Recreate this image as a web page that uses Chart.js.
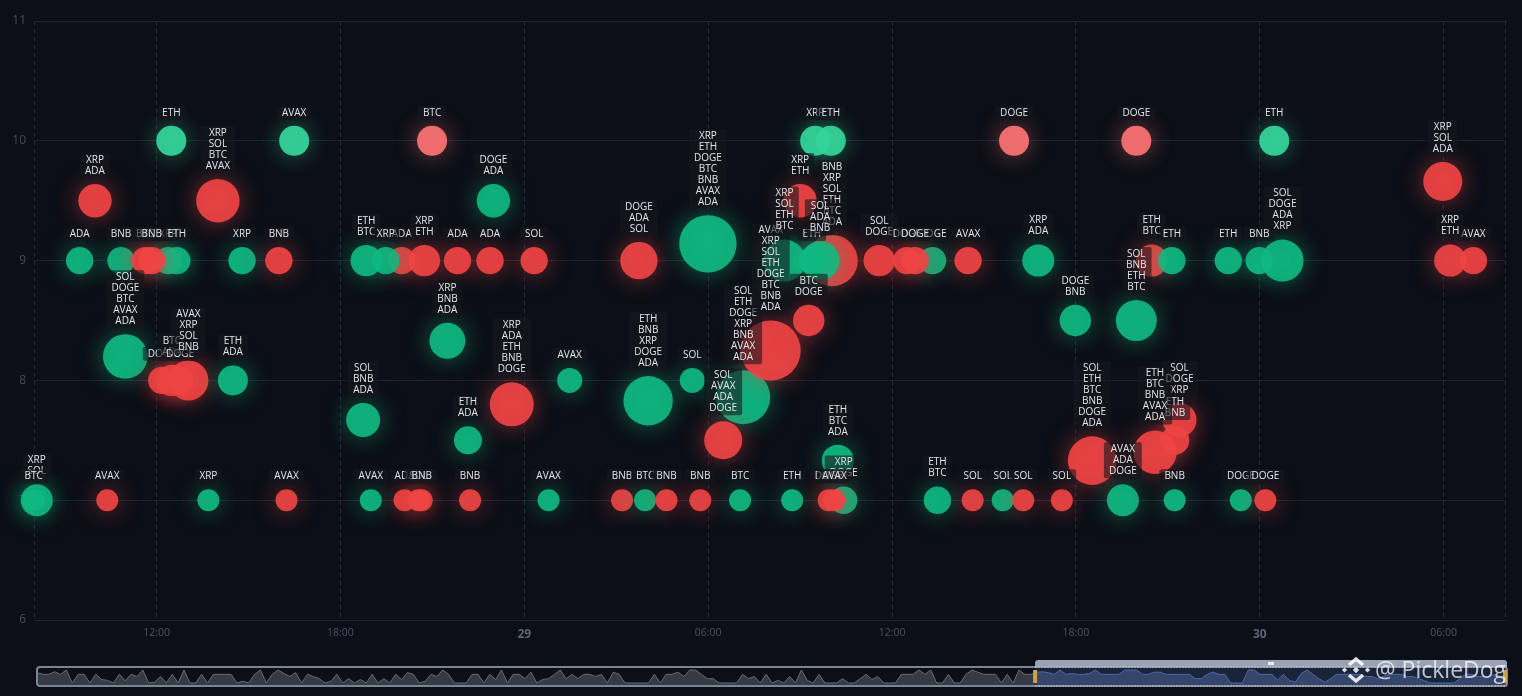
<!DOCTYPE html>
<html>
<head>
<meta charset="utf-8">
<title>Bubble chart</title>
<script src="https://cdn.jsdelivr.net/npm/chart.js@4/dist/chart.umd.js"></script>
<style>
  html, body { margin: 0; padding: 0; background: #0c0f17; overflow: hidden; }
  canvas { position: absolute; left: 0; }
  #main-chart { top: 0; }
  #slider-chart { top: 650px; }
</style>
</head>
<body>
<canvas id="main-chart" width="1522" height="650"></canvas>
<canvas id="slider-chart" width="1522" height="46"></canvas>
<script>
"use strict";

// hours counted from 28th 00:00, listed in drawing order
var times = [
  8.09, 7.99, 9.49, 9.99, 10.39, 10.84, 10.98, 12.38, 12.66, 11.63,
  11.84, 12.17, 12.48, 12.5, 12.77, 13.04, 13.69, 14.0, 14.49, 14.79,
  15.99, 16.24, 16.49, 18.74, 20.0, 18.84, 19.48, 18.99, 20.09, 20.55,
  20.65, 20.74, 20.99, 21.49, 21.82, 22.16, 22.23, 22.88, 22.99, 23.59,
  24.32, 24.79, 25.48, 27.19, 27.74, 27.94, 28.04, 28.64, 29.48, 29.74,
  29.99, 31.14, 30.49, 31.04, 32.04, 32.74, 33.0, 33.28, 34.04, 32.49,
  33.38, 33.65, 33.49, 34.0, 34.23, 34.42, 33.93, 34.12, 35.58, 37.32,
  36.48, 36.75, 37.48, 38.48, 38.63, 39.61, 39.98, 40.28, 40.77, 41.54,
  41.98, 42.53, 43.53, 43.97, 43.97, 44.47, 45.13, 45.38, 45.23, 44.58,
  45.22, 46.97, 47.38, 48.74, 47.98, 48.18, 48.47, 53.97, 54.97, 54.21
];
var prices = [
  7, 7, 9, 9.5, 7, 9, 8.2, 9, 9, 9,
  9, 8, 10, 8, 8, 8, 7, 9.5, 8, 9,
  9, 7, 10, 7.67, 9, 9, 9, 7, 7, 7,
  7, 9, 10, 8.33, 9, 7.5, 7, 9, 9.5, 7.8,
  9, 7, 8, 7, 9, 7, 7.83, 7, 8, 7,
  9.14, 7.86, 7.5, 7, 8.25, 7, 9.5, 8.5, 9, 9,
  9, 9, 10, 10, 7.33, 7, 7, 7, 9, 9,
  9, 9, 7, 9, 7, 7, 10, 7, 9, 7,
  8.5, 7.33, 7, 8.5, 10, 9, 9, 7.67, 7.5, 7.4,
  7, 9, 7, 9, 9, 7, 10, 9.66, 9, 9
];
var sizes = [
  16, 11, 13.7, 16.7, 11, 13.7, 22.3, 13.7, 13.7, 13.7,
  13.7, 13.7, 15, 15.7, 13.7, 20, 11, 21.7, 15, 13.7,
  13.7, 11, 15, 17, 13.7, 15.7, 13.7, 11, 11, 11,
  11, 15.7, 15, 18, 13.7, 14, 11, 13.7, 16.7, 22,
  13.7, 11, 12.5, 11, 18.7, 11, 24.7, 11, 12.5, 11,
  28.7, 27, 19, 11, 30, 11, 16.7, 15.7, 25.7, 21,
  13.7, 19.3, 15, 15, 16, 13.7, 11, 11, 15.7, 13.7,
  13.7, 13.7, 13.7, 13.7, 11, 11, 15, 11, 16, 11,
  15.7, 24.3, 16, 20.5, 15, 16, 13.7, 17, 14.3, 21.7,
  11, 13.7, 11, 21, 13.7, 11, 15, 19.5, 13.7, 16
];
var sides = [
  "G", "G", "G", "R", "R", "G", "G", "G", "G", "R",
  "R", "R", "G", "R", "R", "R", "G", "R", "G", "G",
  "R", "R", "G", "G", "R", "G", "G", "G", "R", "R",
  "R", "R", "R", "G", "R", "G", "R", "R", "G", "R",
  "R", "G", "G", "R", "R", "G", "G", "R", "G", "R",
  "G", "G", "R", "G", "R", "G", "R", "R", "R", "G",
  "G", "G", "G", "G", "G", "G", "R", "R", "R", "G",
  "R", "R", "G", "R", "R", "G", "R", "R", "G", "R",
  "G", "R", "G", "G", "R", "R", "G", "R", "R", "R",
  "G", "G", "G", "G", "G", "R", "G", "R", "R", "R"
];
var coins = [
  "XRP SOL", "BTC", "ADA", "XRP ADA", "AVAX", "BNB", "SOL DOGE BTC AVAX ADA", "XRP", "ETH", "BTC",
  "BNB", "DOGE", "ETH", "BTC ADA", "DOGE", "AVAX XRP SOL BNB", "XRP", "XRP SOL BTC AVAX", "ETH ADA", "XRP",
  "BNB", "AVAX", "AVAX", "SOL BNB ADA", "ADA", "ETH BTC", "XRP", "AVAX", "ADA", "SOL",
  "BNB", "XRP ETH", "BTC", "XRP BNB ADA", "ADA", "ETH ADA", "BNB", "ADA", "DOGE ADA", "XRP ADA ETH BNB DOGE",
  "SOL", "AVAX", "AVAX", "BNB", "DOGE ADA SOL", "BTC", "ETH BNB XRP DOGE ADA", "BNB", "SOL", "BNB",
  "XRP ETH DOGE BTC BNB AVAX ADA", "SOL ETH DOGE XRP BNB AVAX ADA", "SOL AVAX ADA DOGE", "BTC", "AVAX XRP SOL ETH DOGE BTC BNB ADA", "ETH", "XRP ETH", "BTC DOGE", "BNB XRP SOL ETH BTC ADA", "XRP SOL ETH BTC",
  "ETH", "SOL ADA BNB", "XRP", "ETH", "ETH BTC ADA", "XRP DOGE", "DOGE", "AVAX", "SOL DOGE", "DOGE",
  "DOGE", "DOGE", "ETH BTC", "AVAX", "SOL", "SOL", "DOGE", "SOL", "XRP ADA", "SOL",
  "DOGE BNB", "SOL ETH BTC BNB DOGE ADA", "AVAX ADA DOGE", "SOL BNB ETH BTC", "DOGE", "ETH BTC", "ETH", "SOL DOGE XRP", "ETH BNB", "ETH BTC BNB AVAX ADA",
  "BNB", "ETH", "DOGE", "SOL DOGE ADA XRP", "BNB", "DOGE", "ETH", "XRP SOL ADA", "AVAX", "XRP ETH"
];

var xTicks = [8, 12, 18, 24, 30, 36, 42, 48, 54, 56];
var xTickLabels = ["", "12:00", "18:00", "29", "06:00", "12:00", "18:00", "30", "06:00", ""];
var dayTicks = [24, 48];

// overview strip, one value per step
var overview = [
  9.4, 9, 9, 9.6, 9, 10, 7, 9, 9, 7, 9, 7.8, 7.6, 7, 9, 7.5, 9, 8.5, 10, 7, 7.2, 8.5, 7, 9, 7, 10, 7, 7, 9, 7, 9, 9, 9, 9, 7, 7.4, 7, 9, 10, 7, 9, 10, 9.2, 8.5,
  9.4, 7, 9, 8.5, 8, 7, 7.4, 9, 7, 8, 7, 7.8, 7, 9, 7, 8, 7, 9, 7.8, 9.4, 9, 7, 7.4, 9, 8.5, 10, 9, 7, 7, 7, 9, 9, 7, 9, 7.8, 10, 7, 9, 9, 8, 9.5, 7, 7.8,
  8, 9, 10, 8, 9, 8, 9, 9, 8.5, 9, 7, 9.5, 9, 7, 7, 7, 7, 7, 9, 7, 9, 9, 9.5, 8.5, 10, 10, 9, 8, 8, 7, 7, 7, 7, 9, 8, 8.5, 7, 9, 7, 7.6, 7, 8.5, 7,
  10, 7.6, 7, 9, 7, 7, 7, 8, 7, 7, 8, 9, 7.8, 8.5, 7, 7, 7, 9, 9, 9, 10, 9, 10, 7, 7, 9, 7, 7, 9, 10, 9.5, 9, 9, 9, 7, 9, 7, 10, 9, 9,
  9.5, 9.6, 9.4, 9, 10, 9, 9.2, 9, 9, 9.2, 10, 9, 9, 9, 9, 10, 10, 10, 9, 9, 9.5, 9.5, 9, 9, 9, 9, 9, 8, 8, 9, 9.5, 9, 9, 7, 7, 7, 10, 10, 9, 9, 9, 7.7, 9,
  7.6, 7.2, 9.2, 10, 9, 8, 7.2, 8, 9, 9, 9, 9, 9, 8.5, 8.5, 8, 8.5, 9, 9, 9, 8.5, 8.5, 8, 7.5, 7, 7, 7, 7, 7, 8, 9, 9, 8.5, 8.5, 8.5, 9, 8.5, 9
];
var selectedFrom = 170;

var colors = {
  G: { fill: "rgba(16,185,129,0.92)", glow: "rgba(16,185,129,0.55)" },
  R: { fill: "rgba(239,68,68,0.92)", glow: "rgba(239,68,68,0.55)" },
  GTop: { fill: "rgba(52,211,153,0.95)", glow: "rgba(52,211,153,0.5)" },
  RTop: { fill: "rgba(248,113,113,0.95)", glow: "rgba(248,113,113,0.5)" }
};

function colorKey(i) {
  return prices[i] >= 10 ? sides[i] + "Top" : sides[i];
}

// bubble controller that gives every bubble its own glow
class GlowBubbleController extends Chart.BubbleController {
  getMaxOverflow() {
    return 0;
  }
  draw() {
    var ctx = this.chart.ctx;
    var points = this.getMeta().data;
    for (var i = 0; i < points.length; i++) {
      ctx.save();
      ctx.shadowColor = colors[colorKey(i)].glow;
      ctx.shadowBlur = 22;
      points[i].draw(ctx);
      ctx.restore();
    }
  }
}
GlowBubbleController.id = "glowBubble";
GlowBubbleController.defaults = Chart.BubbleController.defaults;
GlowBubbleController.overrides = Chart.BubbleController.overrides;
Chart.register(GlowBubbleController);

var coinLabels = {
  id: "coinLabels",
  afterDatasetsDraw: function (chart) {
    var ctx = chart.ctx;
    var points = chart.getDatasetMeta(0).data;
    var lineHeight = 11;
    ctx.save();
    ctx.font = "500 10px 'Open Sans', sans-serif";
    ctx.textAlign = "center";
    ctx.textBaseline = "middle";
    points.forEach(function (pt, i) {
      var lines = coins[i].split(" ");
      var bottom = pt.y - sizes[i] - 6;
      var h = lines.length * lineHeight + 3;
      var w = 0;
      lines.forEach(function (l) { w = Math.max(w, ctx.measureText(l).width); });
      w += 10;
      ctx.fillStyle = "rgba(22,24,30,0.6)";
      ctx.beginPath();
      ctx.roundRect(pt.x - w / 2, bottom - h, w, h, 2);
      ctx.fill();
      ctx.fillStyle = "#e2e5ea";
      lines.forEach(function (l, k) {
        ctx.fillText(l, pt.x, bottom - h + 1.5 + lineHeight * (k + 0.5));
      });
    });
    ctx.restore();
  }
};

var mainChart = new Chart(document.getElementById("main-chart").getContext("2d"), {
  type: "glowBubble",
  data: {
    datasets: [
      {
        data: times.map(function (t, i) {
          return { x: t, y: prices[i], r: sizes[i] };
        }),
        clip: false,
        borderWidth: 0,
        backgroundColor: function (c) {
          return colors[colorKey(c.dataIndex)].fill;
        }
      }
    ]
  },
  options: {
    responsive: false,
    animation: false,
    events: [],
    layout: { padding: { top: 21, right: 17 } },
    plugins: { legend: { display: false }, tooltip: { enabled: false } },
    scales: {
      x: {
        type: "linear",
        min: 8,
        max: 56,
        afterBuildTicks: function (axis) {
          axis.ticks = xTicks.map(function (v) { return { value: v }; });
        },
        afterFit: function (axis) { axis.height = 30; },
        border: { color: "#1d2433", dash: [4, 4] },
        grid: { color: "#232a3a", drawTicks: false },
        ticks: {
          autoSkip: false,
          maxRotation: 0,
          padding: 7,
          color: function (c) {
            return dayTicks.indexOf(c.tick.value) >= 0 ? "#5b6475" : "#4a5263";
          },
          font: function (c) {
            var isDay = c.tick && dayTicks.indexOf(c.tick.value) >= 0;
            return { family: "'Open Sans', sans-serif", size: isDay ? 12 : 10.5, weight: isDay ? "bold" : "normal" };
          },
          callback: function (value) {
            return xTickLabels[xTicks.indexOf(value)];
          }
        }
      },
      y: {
        min: 6,
        max: 11,
        afterFit: function (axis) { axis.width = 34; },
        border: { display: false },
        grid: { color: "#1d2433", drawTicks: false },
        ticks: {
          stepSize: 1,
          padding: 8,
          color: "#434b5c",
          font: { family: "'Open Sans', sans-serif", size: 12 }
        }
      }
    }
  },
  plugins: [coinLabels]
});

var sliderChrome = {
  id: "sliderChrome",
  beforeDatasetsDraw: function (chart) {
    var ctx = chart.ctx;
    var area = chart.chartArea;
    var x0 = chart.scales.x.getPixelForValue(selectedFrom) - 1.5;
    ctx.save();
    ctx.fillStyle = "rgba(60,85,135,0.3)";
    ctx.fillRect(x0, area.top, area.right - x0, area.bottom - area.top);
    ctx.restore();
  },
  afterDatasetsDraw: function (chart) {
    var ctx = chart.ctx;
    var area = chart.chartArea;
    var x0 = chart.scales.x.getPixelForValue(selectedFrom) - 1.5;
    ctx.save();
    // frame
    ctx.strokeStyle = "#7b8494";
    ctx.lineWidth = 2;
    ctx.beginPath();
    ctx.roundRect(area.left, area.top, area.right - area.left, area.bottom - area.top, 3);
    ctx.stroke();
    // selected window
    ctx.fillStyle = "#99a3b3";
    ctx.beginPath();
    ctx.roundRect(x0, area.top - 7, area.right - x0, 7, [3, 3, 0, 0]);
    ctx.fill();
    ctx.strokeStyle = "#c3cad6";
    ctx.lineWidth = 1;
    ctx.setLineDash([2, 1]);
    ctx.beginPath();
    ctx.moveTo(x0, area.top);
    ctx.lineTo(area.right, area.top);
    ctx.moveTo(x0, area.bottom);
    ctx.lineTo(area.right, area.bottom);
    ctx.stroke();
    ctx.setLineDash([]);
    // grip in the top bar
    var gx = (x0 + area.right) / 2;
    ctx.fillStyle = "#e8ebf0";
    ctx.fillRect(gx - 3, area.top - 5, 6, 3);
    // handles
    ctx.fillStyle = "#d39f4f";
    ctx.fillRect(x0 - 2, area.top + 3, 4, 13);
    ctx.fillRect(area.right - 4, area.top + 3, 4, 13);
    // watermark
    var wx = 1356, wy = 20;
    ctx.strokeStyle = "rgba(255,255,255,0.85)";
    ctx.lineWidth = 3.5;
    ctx.lineJoin = "miter";
    ctx.beginPath();
    ctx.moveTo(wx - 7, wy - 5);
    ctx.lineTo(wx, wy - 11);
    ctx.lineTo(wx + 7, wy - 5);
    ctx.moveTo(wx - 7, wy + 5);
    ctx.lineTo(wx, wy + 11);
    ctx.lineTo(wx + 7, wy + 5);
    ctx.stroke();
    ctx.fillStyle = "rgba(255,255,255,0.85)";
    [[-11.5, 0, 2.6], [11.5, 0, 2.6], [0, 0, 3.2]].forEach(function (d) {
      ctx.beginPath();
      ctx.moveTo(wx + d[0], wy + d[1] - d[2]);
      ctx.lineTo(wx + d[0] + d[2], wy + d[1]);
      ctx.lineTo(wx + d[0], wy + d[1] + d[2]);
      ctx.lineTo(wx + d[0] - d[2], wy + d[1]);
      ctx.closePath();
      ctx.fill();
    });
    ctx.font = "23px 'Open Sans', sans-serif";
    ctx.textAlign = "left";
    ctx.textBaseline = "middle";
    ctx.fillStyle = "rgba(255,255,255,0.72)";
    ctx.fillText("@ PickleDog", 1375, wy + 1);
    ctx.restore();
  }
};

var sliderChart = new Chart(document.getElementById("slider-chart").getContext("2d"), {
  type: "line",
  data: {
    labels: overview.map(function (v, i) { return i; }),
    datasets: [
      {
        data: overview.map(function (v, i) { return i <= selectedFrom ? v : null; }),
        borderColor: "#666d7a",
        backgroundColor: "#363a43",
        borderWidth: 1,
        pointRadius: 0,
        tension: 0,
        fill: "start"
      },
      {
        data: overview.map(function (v, i) { return i >= selectedFrom ? v : null; }),
        borderColor: "#4a6aa6",
        backgroundColor: "#36466b",
        borderWidth: 1,
        pointRadius: 0,
        tension: 0,
        fill: "start"
      }
    ]
  },
  options: {
    responsive: false,
    animation: false,
    events: [],
    layout: { padding: { left: 37, right: 15, top: 17, bottom: 10 } },
    plugins: { legend: { display: false }, tooltip: { enabled: false } },
    scales: {
      x: { display: false },
      y: { display: false, min: 6.3, max: 10.7 }
    }
  },
  plugins: [sliderChrome]
});
</script>
</body>
</html>
